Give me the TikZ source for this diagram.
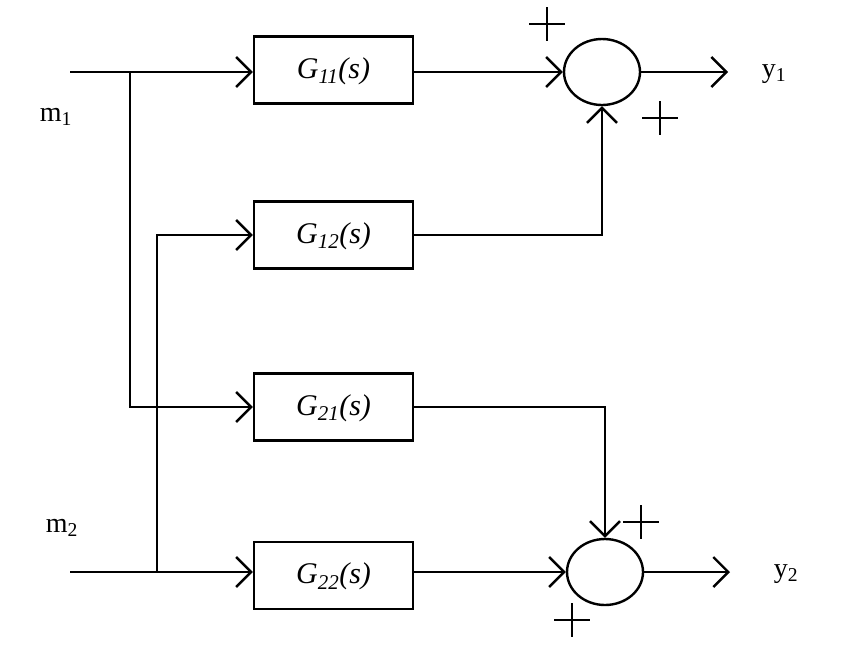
\documentclass[tikz,border=0pt]{standalone}
\usepackage{fontspec}
\setmainfont{Liberation Serif}
\usetikzlibrary{arrows.meta,shapes.geometric}
\begin{document}
\begin{tikzpicture}[x=1pt,y=-1pt,line width=2.4pt,
  blk/.style={draw,minimum width=159pt,minimum height=67pt,inner sep=0pt,text depth=4pt,font=\fontsize{30}{32}\selectfont\itshape},
  sumn/.style={draw,ellipse,minimum width=76pt,minimum height=66pt,inner sep=0pt},
  arr/.style={-{Straight Barb[length=15pt,width=30pt,line width=2.4pt]}},
  lbl/.style={font=\fontsize{28}{30}\selectfont,inner sep=0pt}]
\useasboundingbox (0,0) rectangle (848,657);
\node[blk] (g11) at (333.5,70) {G\textsubscript{11}(s)};
\node[blk] (g12) at (333.5,235) {G\textsubscript{12}(s)};
\node[blk] (g21) at (333.5,407) {G\textsubscript{21}(s)};
\node[blk] (g22) at (333.5,575.5) {G\textsubscript{22}(s)};
\node[sumn] (s1) at (602,72) {};
\node[sumn] (s2) at (605,572) {};
\coordinate (m1in) at (70,72);
\coordinate (m2in) at (70,572);
\coordinate (b1) at (130,72);
\coordinate (b2) at (157,572);
\coordinate (y1e) at (728,72);
\coordinate (y2e) at (730,572);
\node[lbl] (m1) at (56,117) {m\textsubscript{1}};
\node[lbl] (m2) at (62,528) {m\textsubscript{2}};
\node[lbl] (y1) at (774,74) {y\textsubscript{1}};
\node[lbl] (y2) at (786,574) {y\textsubscript{2}};
\draw[arr] (m1in) -- (g11.west |- m1in);
\draw[arr] (b1) |- (g21.west);
\draw[arr] (m2in) -- (g22.west |- m2in);
\draw[arr] (b2) |- (g12.west);
\draw[arr] (g11.east |- s1) -- (s1.west);
\draw[arr] (g22.east |- s2) -- (s2.west);
\draw[arr] (g12.east) -| (s1.south);
\draw[arr] (g21.east) -| (s2.north);
\draw[arr] (s1.east) -- (y1e);
\draw[arr] (s2.east) -- (y2e);
\foreach \n/\x/\y in {pa/547/24,pb/660/118,pc/641/522,pd/572/620}{
  \coordinate (\n) at (\x,\y);
  \draw (\n) ++(-18,0) -- ++(36,0) (\n) ++(0,-17) -- ++(0,34);
}
\end{tikzpicture}
\end{document}
